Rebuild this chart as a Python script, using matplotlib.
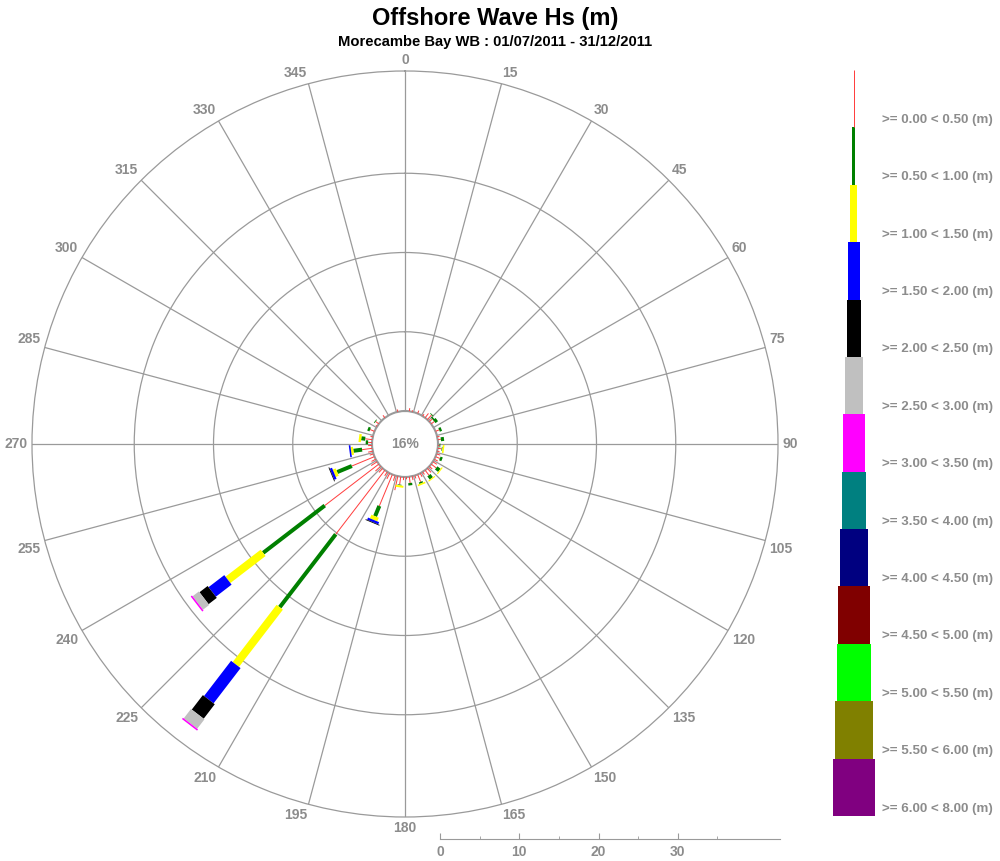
import numpy as np
import matplotlib
matplotlib.use("Agg")
import matplotlib.pyplot as plt

plt.rcParams['font.family'] = ['Liberation Sans', 'DejaVu Sans']

# 5 degree direction sectors (centres) and % occurrence per Hs class
directions = [2.5 + 5 * k for k in range(72)]

hs_000_050 = [0, 0.4, 0.2, 0, 0.4, 0, 0.3, 0.7, 0.8, 0.5, 0.5, 0,
              0, 0.5, 0, 0.3, 0.4, 0, 0.2, 0.5, 0.3, 0.5, 0.6, 0.5,
              0.6, 0.8, 0.5, 0.7, 0.8, 0.4, 0.5, 1.0, 0.4, 0.5, 0.8, 0.3,
              0.4, 1.0, 1.8, 0.7, 4.3, 0.8, 0.6, 10.2, 0.7, 0.9, 8.6, 0.9,
              0.6, 3.1, 0.5, 0.6, 1.3, 0.5, 0.5, 0.9, 0.3, 0, 0.6, 0,
              0.2, 0.5, 0, 0, 0.4, 0, 0, 0, 0, 0.3, 0, 0]
hs_050_100 = [0, 0, 0, 0, 0, 0, 0, 0, 0.1, 0.2, 0.4, 0,
              0, 0.3, 0, 0, 0.4, 0, 0.1, 0.1, 0, 0, 0.3, 0,
              0, 0.5, 0, 0, 0.5, 0, 0, 0.2, 0, 0, 0.3, 0,
              0, 0.1, 0, 0, 1.4, 0, 0, 11.6, 0, 0, 9.8, 0,
              0, 2.0, 0, 0, 1.1, 0, 0.3, 0.5, 0, 0, 0.3, 0,
              0, 0.1, 0, 0, 0, 0, 0, 0, 0, 0, 0, 0]
hs_100_150 = [0, 0, 0, 0, 0, 0, 0, 0, 0, 0, 0, 0,
              0, 0, 0, 0, 0, 0, 0, 0.2, 0, 0, 0, 0,
              0, 0.15, 0, 0, 0.15, 0, 0, 0.2, 0, 0, 0, 0,
              0, 0.25, 0, 0, 0.5, 0, 0, 9.1, 0, 0, 5.6, 0,
              0, 0.4, 0, 0, 0.3, 0, 0, 0.3, 0, 0, 0, 0,
              0, 0, 0, 0, 0, 0, 0, 0, 0, 0, 0, 0]
hs_150_200 = [0, 0, 0, 0, 0, 0, 0, 0, 0, 0, 0, 0,
              0, 0, 0, 0, 0, 0, 0, 0, 0, 0, 0, 0,
              0, 0, 0, 0, 0, 0, 0, 0, 0, 0, 0, 0,
              0, 0, 0, 0, 0.3, 0, 0, 5.6, 0, 0, 2.5, 0,
              0, 0.3, 0, 0, 0.2, 0, 0, 0, 0, 0, 0, 0,
              0, 0, 0, 0, 0, 0, 0, 0, 0, 0, 0, 0]
hs_200_250 = [0, 0, 0, 0, 0, 0, 0, 0, 0, 0, 0, 0,
              0, 0, 0, 0, 0, 0, 0, 0, 0, 0, 0, 0,
              0, 0, 0, 0, 0, 0, 0, 0, 0, 0, 0, 0,
              0, 0, 0, 0, 0.1, 0, 0, 2.3, 0, 0, 1.3, 0,
              0, 0.1, 0, 0, 0, 0, 0, 0, 0, 0, 0, 0,
              0, 0, 0, 0, 0, 0, 0, 0, 0, 0, 0, 0]
hs_250_300 = [0, 0, 0, 0, 0, 0, 0, 0, 0, 0, 0, 0,
              0, 0, 0, 0, 0, 0, 0, 0, 0, 0, 0, 0,
              0, 0, 0, 0, 0, 0, 0, 0, 0, 0, 0, 0,
              0, 0, 0, 0, 0, 0, 0, 1.5, 0, 0, 1.0, 0,
              0, 0, 0, 0, 0, 0, 0, 0, 0, 0, 0, 0,
              0, 0, 0, 0, 0, 0, 0, 0, 0, 0, 0, 0]
hs_300_350 = [0, 0, 0, 0, 0, 0, 0, 0, 0, 0, 0, 0,
              0, 0, 0, 0, 0, 0, 0, 0, 0, 0, 0, 0,
              0, 0, 0, 0, 0, 0, 0, 0, 0, 0, 0, 0,
              0, 0, 0, 0, 0, 0, 0, 0.2, 0, 0, 0.2, 0,
              0, 0, 0, 0, 0, 0, 0, 0, 0, 0, 0, 0,
              0, 0, 0, 0, 0, 0, 0, 0, 0, 0, 0, 0]

class_labels = [">= 0.00 < 0.50 (m)", ">= 0.50 < 1.00 (m)", ">= 1.00 < 1.50 (m)",
                ">= 1.50 < 2.00 (m)", ">= 2.00 < 2.50 (m)", ">= 2.50 < 3.00 (m)",
                ">= 3.00 < 3.50 (m)", ">= 3.50 < 4.00 (m)", ">= 4.00 < 4.50 (m)",
                ">= 4.50 < 5.00 (m)", ">= 5.00 < 5.50 (m)", ">= 5.50 < 6.00 (m)",
                ">= 6.00 < 8.00 (m)"]
class_colors = ['#ff4040', '#008000', '#ffff00', '#0000ff', '#000000', '#c0c0c0',
                '#ff00ff', '#008080', '#000080', '#800000', '#00ff00', '#808000', '#800080']
class_widths_px = [1, 3.3, 7, 12, 14, 18, 22, 24, 28, 32, 34, 38, 42]
rose_widths_px = [1, 4, 8, 12, 15, 17, 19]

calm_text = "16%"
title = "Offshore Wave Hs (m)"
subtitle = "Morecambe Bay WB : 01/07/2011 - 31/12/2011"

series = [hs_000_050, hs_050_100, hs_100_150, hs_150_200, hs_200_250, hs_250_300, hs_300_350]

W, H = 1000, 861
px2pt = 72.0 / 100
grey = '#8c8c8c'
gridc = '#9a9a9a'

rmax = 42.9
hole = 4.16

fig = plt.figure(figsize=(W / 100, H / 100), dpi=100)
fig.patch.set_facecolor('white')

# polar rose: centre (405,444), radius 373 px
cx, cy, R = 405, 444, 373
ax = fig.add_axes([(cx - R) / W, (H - cy - R) / H, 2 * R / W, 2 * R / H], projection='polar')
ax.set_theta_zero_location('N')
ax.set_theta_direction(-1)
ax.set_rorigin(-hole)
ax.set_ylim(0, rmax)
ax.set_rgrids([10, 20, 30], labels=[])
ax.set_thetagrids(np.arange(0, 360, 15), labels=[])
ax.grid(True, color=gridc, lw=0.9)
ax.spines['polar'].set_color(gridc)
ax.spines['polar'].set_linewidth(0.9)
ax.spines['inner'].set_color(gridc)
ax.spines['inner'].set_linewidth(1.5)
ax.tick_params(axis='both', length=0)

for i, d in enumerate(directions):
    th = np.radians(d)
    base = 0.0
    for c, s in enumerate(series):
        v = s[i]
        if v <= 0:
            continue
        ax.plot([th, th], [base, base + v], color=class_colors[c],
                lw=rose_widths_px[c] * px2pt, solid_capstyle='butt', zorder=3 + c)
        base += v

for a in range(0, 360, 15):
    sa, ca = np.sin(np.radians(a)), np.cos(np.radians(a))
    ha = 'left' if sa > 0.1 else ('right' if sa < -0.1 else 'center')
    va = 'bottom' if ca > 0.1 else ('top' if ca < -0.1 else 'center')
    ax.annotate(str(a), xy=(np.radians(a), rmax), xytext=(3 * sa, 3 * ca),
                textcoords='offset points', ha=ha, va=va, color=grey,
                fontsize=10, fontweight='bold', annotation_clip=False)

ax.text(0, -hole, calm_text, ha='center', va='center', color=grey,
        fontsize=10, fontweight='bold')

# titles
fig.text(495 / W, 1 - 19 / H, title, ha='center', va='center', fontsize=17,
         fontweight='bold', color='black')
fig.text(495 / W, 1 - 42 / H, subtitle, ha='center', va='center', fontsize=10.6,
         fontweight='bold', color='black')

# scale bar
scale_px = rmax * R / (rmax + hole)
axs = fig.add_axes([440 / W, (H - 839) / H, scale_px / W, 0.01])
axs.set_xlim(0, rmax)
axs.set_ylim(0, 1)
for sp in ['top', 'left', 'right']:
    axs.spines[sp].set_visible(False)
axs.spines['bottom'].set_color(gridc)
axs.set_yticks([])
axs.set_xticks([0, 10, 20, 30])
axs.set_xticks([5, 15, 25, 35], minor=True)
axs.tick_params(axis='x', which='major', direction='in', length=4, color=gridc,
                labelcolor=grey, labelsize=10, pad=4)
axs.tick_params(axis='x', which='minor', direction='in', length=2, color=gridc)
for lab in axs.get_xticklabels():
    lab.set_fontweight('bold')
axs.patch.set_alpha(0)

# legend column
top, bot = 70, 816
n = len(class_labels)
axl = fig.add_axes([(853.7 - 25) / W, (H - bot) / H, 50 / W, (bot - top) / H])
axl.set_xlim(-25, 25)
axl.set_ylim(n, 0)
axl.axis('off')
for i in range(n):
    if i == 0:
        axl.plot([0, 0], [0, 1], color=class_colors[0], lw=1 * px2pt, solid_capstyle='butt')
    else:
        axl.bar(0, 1, bottom=i, width=class_widths_px[i], color=class_colors[i], linewidth=0)
    axl.text(28.3, i + 0.87, class_labels[i], ha='left', va='center', color=grey,
             fontsize=9.6, fontweight='bold', clip_on=False)

fig.savefig('out.png', dpi=100)
